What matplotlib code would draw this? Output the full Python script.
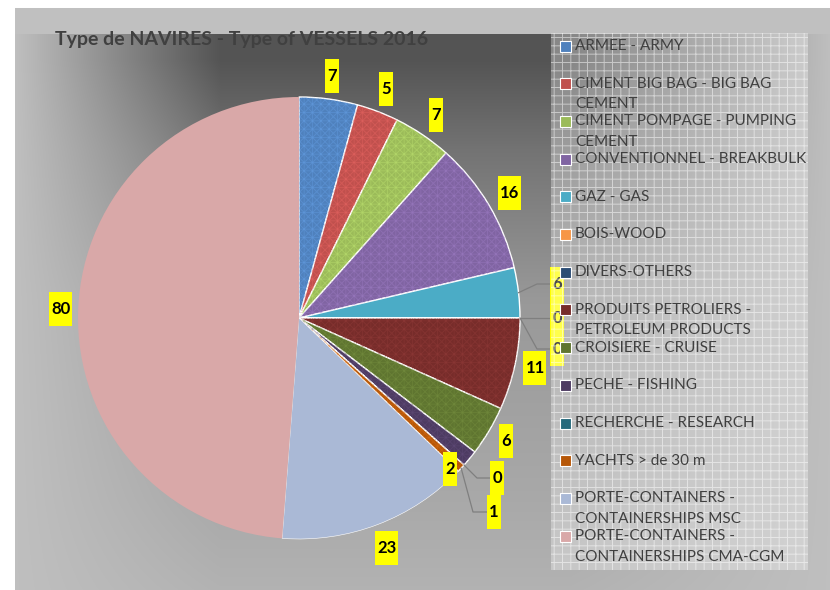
import numpy as np
import matplotlib
matplotlib.use("Agg")
import matplotlib.pyplot as plt
from matplotlib.patches import Rectangle, Wedge
from matplotlib.transforms import ScaledTranslation

plt.rcParams['font.family'] = ['Lato', 'DejaVu Sans']
plt.rcParams['hatch.linewidth'] = 0.7

# ---------------- data ----------------
title = "Type de NAVIRES - Type of VESSELS 2016"
categories = ["ARMEE - ARMY",
              "CIMENT BIG BAG - BIG BAG\nCEMENT",
              "CIMENT POMPAGE - PUMPING\nCEMENT",
              "CONVENTIONNEL - BREAKBULK",
              "GAZ - GAS",
              "BOIS-WOOD",
              "DIVERS-OTHERS",
              "PRODUITS PETROLIERS -\nPETROLEUM PRODUCTS",
              "CROISIERE - CRUISE",
              "PECHE - FISHING",
              "RECHERCHE - RESEARCH",
              "YACHTS > de 30 m",
              "PORTE-CONTAINERS -\nCONTAINERSHIPS MSC",
              "PORTE-CONTAINERS -\nCONTAINERSHIPS CMA-CGM"]
values = [7, 5, 7, 16, 6, 0, 0, 11, 6, 2, 0, 1, 23, 80]

# ---------------- style ----------------
colors = ["#4f81bd", "#c0504d", "#9bbb59", "#8064a2", "#4bacc6", "#f79646",
          "#2c4d75", "#772c2a", "#5f7530", "#4d3b62", "#276a7c", "#b65708",
          "#aab9d6", "#d9a8a8"]
pattern_idx = [0, 1, 2, 3, 7, 8, 9, 10, 11]

W, H, DPI = 830, 590, 100
fig = plt.figure(figsize=(W / DPI, H / DPI), dpi=DPI)
fig.patch.set_facecolor("white")

# ---------------- background gradient ----------------
ax_bg = fig.add_axes([0, 0, 1, 1], zorder=-10)
yy, xx = np.mgrid[0:H, 0:W] + 0.5
hx = np.minimum(np.clip((xx - 15) / 205, 0, 1), np.clip((W - xx) / 260, 0, 1))
vy = np.interp(yy, [33, 60, 150, 300, 500, 590], [1, 1, 0.71, 0.36, 0.21, 0.12])
g = 0.75 - 0.42 * hx * vy
g[yy < 34] = 0.755
g[(yy < 8) | (xx < 15)] = 1.0
ax_bg.imshow(np.dstack([g, g, g]), extent=[0, W, H, 0], interpolation="bilinear")
ax_bg.set_xlim(0, W)
ax_bg.set_ylim(H, 0)
ax_bg.axis("off")

# ---------------- pie ----------------
cx, cy, R = 299, 318, 221
ax = fig.add_axes([(cx - R) / W, (H - cy - R) / H, 2 * R / W, 2 * R / H], zorder=1)
ax.axis("off")
ax.patch.set_alpha(0)

wedges, _ = ax.pie(values, colors=colors, startangle=90, counterclock=False,
                   radius=1.0, center=(0, 0),
                   wedgeprops=dict(edgecolor="white", linewidth=1.0))
ax.set_xlim(-1, 1)
ax.set_ylim(-1, 1)
ax.set_aspect("auto")
wedges[-1].set_linewidth(0)
wedges[-2].set_linewidth(0.4)

for i in pattern_idx:
    w = wedges[i]
    if w.theta2 - w.theta1 <= 0:
        continue
    hc = matplotlib.colors.to_rgb(colors[i])
    hc = tuple(min(1, v * 1.2 + 0.04) for v in hc)
    ax.add_patch(Wedge((0, 0), 1.0, w.theta1, w.theta2, fill=False,
                       edgecolor=hc + (0.35,), linewidth=0, hatch="xxxx", zorder=2))
    ax.add_patch(Wedge((0, 0), 1.0, w.theta1, w.theta2, fill=False,
                       edgecolor=hc + (0.3,), linewidth=0, hatch="++", zorder=2))

# ---------------- data labels ----------------
def label_box(x, y, text):
    wpx = 14 if len(text) == 1 else 23
    hpx = 34
    tr = fig.dpi_scale_trans + ScaledTranslation(x, y, ax.transData)
    ax.add_patch(Rectangle((-wpx / 2 / DPI, -hpx / 2 / DPI), wpx / DPI, hpx / DPI,
                           transform=tr, facecolor="#ffff00", edgecolor="none",
                           clip_on=False, zorder=5))
    ax.text(x, y, text, ha="center", va="center", fontsize=12, fontweight="bold",
            color="black", zorder=6, clip_on=False)

# manual placements (data units) for crowded labels: (label centre, leader elbow)
px2d = lambda px, py: ((px - cx) / R, (cy - py) / R)
special = {
    4: (px2d(557, 284), px2d(537, 284)),
    5: (px2d(557, 318), None),
    6: (px2d(557, 349), px2d(537, 349)),
    9: (px2d(450, 469), "none"),
    10: (px2d(497, 478), px2d(477, 478)),
    11: (px2d(494, 512), px2d(473, 512)),
}
for i, w in enumerate(wedges):
    mid = np.deg2rad((w.theta1 + w.theta2) / 2)
    txt = str(values[i])
    if i in special:
        (lx, ly), elbow = special[i]
        if elbow != "none":
            ex, ey = np.cos(mid), np.sin(mid)
            wpx = 14 if len(txt) == 1 else 23
            endx = lx - wpx / 2 / R
            if elbow is None:
                xs, ys = [ex, endx], [ey, ly]
            else:
                xs, ys = [ex, elbow[0], endx], [ey, elbow[1], ly]
            ax.plot(xs, ys, color="#7f7f7f", lw=0.9, zorder=4, clip_on=False)
        label_box(lx, ly, txt)
    else:
        wpx = 14 if len(txt) == 1 else 23
        ext = abs(np.cos(mid)) * wpx / 2 / R + abs(np.sin(mid)) * 17 / R
        r = 1.025 + ext
        label_box(r * np.cos(mid), r * np.sin(mid), txt)

# ---------------- overlay: title + legend ----------------
ax_ov = fig.add_axes([0, 0, 1, 1], zorder=10)
ax_ov.set_xlim(0, W)
ax_ov.set_ylim(H, 0)
ax_ov.axis("off")
ax_ov.patch.set_alpha(0)

ax_ov.text(55, 40, title, ha="left", va="center", fontsize=14,
           fontweight="bold", color="#404040")

lx0, ly0, lx1, ly1 = 551, 33, 808, 570
ax_ov.add_patch(Rectangle((lx0, ly0), lx1 - lx0, ly1 - ly0, facecolor=(1, 1, 1, 0.3),
                          edgecolor="none"))
ax_ov.add_patch(Rectangle((lx0, ly0), lx1 - lx0, ly1 - ly0, fill=False,
                          edgecolor=(1, 1, 1, 0.5), linewidth=0, hatch="++"))
for i, (lab, c) in enumerate(zip(categories, colors)):
    yc = 46 + i * 37.7
    ax_ov.add_patch(Rectangle((559.5, yc - 5.5), 11, 11, facecolor=c,
                              edgecolor="white", linewidth=0.8))
    for j, line in enumerate(lab.split("\n")):
        ax_ov.text(575, yc + j * 20.5, line, ha="left", va="center",
                   fontsize=11, color="#404040")

fig.savefig("out.png", dpi=DPI)
